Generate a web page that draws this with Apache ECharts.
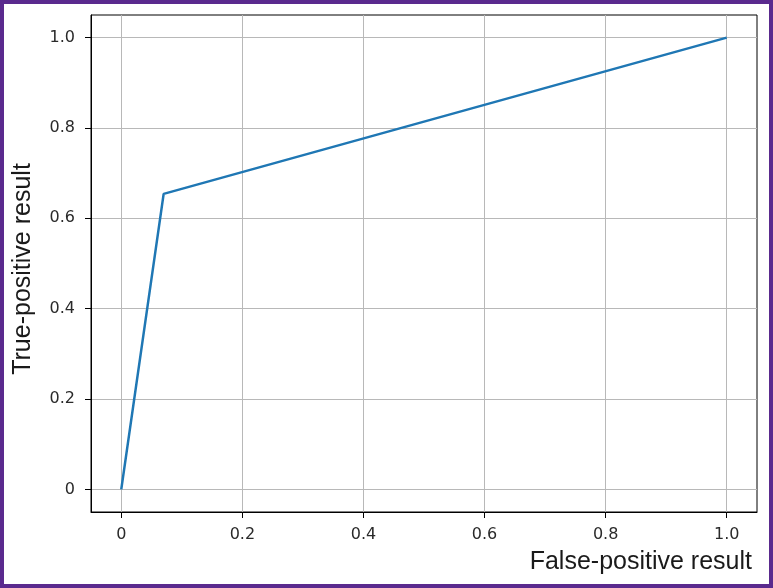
<!DOCTYPE html>
<html><head><meta charset="utf-8">
<script src="https://cdn.jsdelivr.net/npm/echarts@6/dist/echarts.min.js"></script>
<style>html,body{margin:0;padding:0;background:#fff}#c{width:773px;height:588px}</style>
</head><body><div id="c"></div>
<script>
const fpr = [0, 0.07, 1.0];
const tpr = [0, 0.654, 1.0];
const tickValues = [0, 0.2, 0.4, 0.6, 0.8, 1.0];
const xTitle = 'False-positive result';
const yTitle = 'True-positive result';

const fmt = v => (Math.abs(v) < 1e-9 ? '0' : v.toFixed(1));
const chart = echarts.init(document.getElementById('c'));
const axisCommon = {
  type: 'value', min: -0.05, max: 1.05,
  axisLine: {show: true, onZero: false, lineStyle: {color: '#000', width: 1}},
  axisTick: {show: true, inside: false, length: 6, lineStyle: {color: '#000', width: 1}, customValues: tickValues},
  axisLabel: {customValues: tickValues, formatter: fmt, color: '#2a2a2a', fontFamily: 'DejaVu Sans', fontSize: 16},
  splitLine: {show: true, lineStyle: {color: '#b8b8b8', width: 1}}
};
chart.setOption({
  animation: false,
  grid: {left: 91, right: 16, top: 15, bottom: 76, show: true, borderColor: '#000', borderWidth: 1, containLabel: false},
  xAxis: Object.assign({}, axisCommon, {axisLabel: Object.assign({}, axisCommon.axisLabel, {margin: 15})}),
  yAxis: Object.assign({}, axisCommon, {axisLabel: Object.assign({}, axisCommon.axisLabel, {margin: 16})}),
  graphic: [
    {type: 'rect', shape: {x: 2, y: 2, width: 769, height: 584}, style: {fill: 'none', stroke: '#5a2a8e', lineWidth: 4}, z: 100},
    {type: 'text', x: 752, y: 562, style: {text: xTitle, fontFamily: 'Liberation Sans', fontSize: 25, fill: '#1a1a1a', align: 'right', verticalAlign: 'middle'}},
    {type: 'text', x: 23, y: 269, rotation: Math.PI / 2, style: {text: yTitle, fontFamily: 'Liberation Sans', fontSize: 25, fill: '#1a1a1a', align: 'center', verticalAlign: 'middle'}}
  ],
  series: [{
    type: 'line', data: fpr.map((x, i) => [x, tpr[i]]), showSymbol: false, symbol: 'none',
    lineStyle: {color: '#1f77b4', width: 2.5}, z: 5
  }]
});
</script></body></html>
